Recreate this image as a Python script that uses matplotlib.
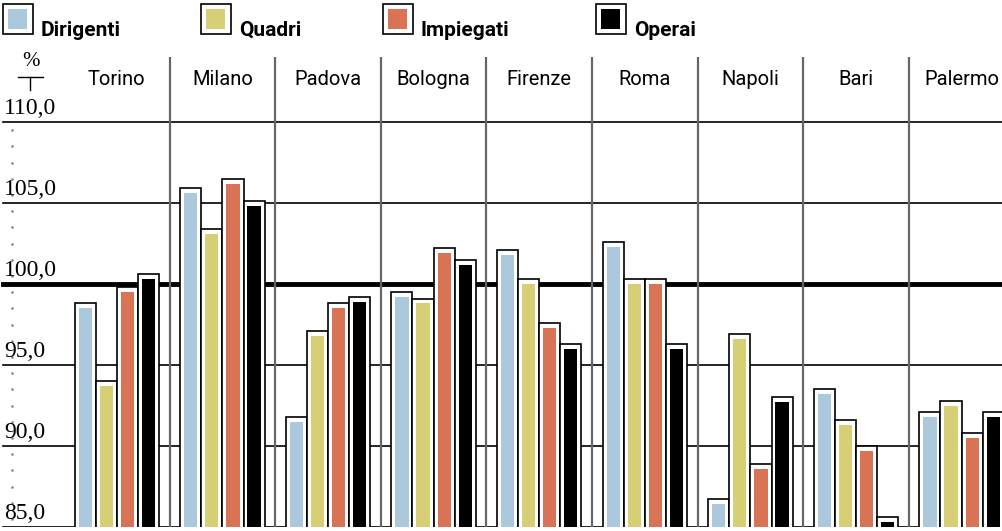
import matplotlib
matplotlib.use("Agg")
import matplotlib.pyplot as plt
import numpy as np
from matplotlib import font_manager
from matplotlib.lines import Line2D
from matplotlib.patches import Rectangle

cities = ["Torino", "Milano", "Padova", "Bologna", "Firenze", "Roma",
          "Napoli", "Bari", "Palermo"]
series = ["Dirigenti", "Quadri", "Impiegati", "Operai"]
dirigenti = [98.5, 105.6, 91.5, 99.2, 101.8, 102.3, 86.4, 93.2, 91.8]
quadri = [93.7, 103.1, 96.8, 98.8, 100.0, 100.0, 96.6, 91.3, 92.5]
impiegati = [99.5, 106.2, 98.5, 101.9, 97.3, 100.0, 88.6, 89.7, 90.5]
operai = [100.3, 104.8, 98.9, 101.2, 96.0, 96.0, 92.7, 85.3, 91.8]
colors = ["#abc8dc", "#d6cf76", "#d87455", "#000000"]
yticks = [85, 90, 95, 100, 105, 110]
ylabels = ["85,0", "90,0", "95,0", "100,0", "105,0", "110,0"]

installed = {f.name for f in font_manager.fontManager.ttflist}
narrow = "Liberation Sans Narrow" if "Liberation Sans Narrow" in installed else "Roboto"
serif = "Liberation Serif" if "Liberation Serif" in installed else "DejaVu Serif"

W, H = 1003, 531
fig = plt.figure(figsize=(W / 100, H / 100), dpi=100)

# pixel geometry: 110 at y=122, 85 at y=527; columns 105.6 px wide from x=64
ppu = 16.2
colw = 105.6
x0 = -0.5 - 64 / colw
x1 = x0 + W / colw
ytop = 110 + (122 - 57) / ppu
ax = fig.add_axes([0, 4 / H, 1, 470 / H])
ax.set_xlim(x0, x1)
ax.set_ylim(85, ytop)
ax.axis("off")

# horizontal rules
for v in yticks:
    lw = 3.5 if v == 100 else 1.2
    ax.axhline(v, xmin=3 / W, xmax=1, color="black", lw=lw, zorder=1)
# column separators
for k in range(1, len(cities)):
    ax.vlines(k - 0.5, 85, ytop, color="#666666", lw=1.6, zorder=1)

# dotted minor marks on the left
dots = np.arange(85.5, 110, 1.0)
ax.scatter(np.full(len(dots), x0 + 12 / colw), dots, s=0.8,
           color="#888888", zorder=2, clip_on=False)

x = np.arange(len(cities))
offs = [-0.3, -0.1, 0.1, 0.3]
base = 84.0
for vals, off, c in zip([dirigenti, quadri, impiegati, operai], offs, colors):
    vals = np.asarray(vals)
    ax.bar(x + off, vals + 0.3 - base, bottom=base, width=0.2,
           color="white", edgecolor="black", lw=1.2, zorder=3)
    ax.bar(x + off, vals - base, bottom=base, width=0.125,
           color=c, lw=0, zorder=4)

# y labels
for v, s in zip(yticks, ylabels):
    ax.text(4 / W, v + 0.2, s, transform=ax.get_yaxis_transform(),
            ha="left", va="bottom", fontsize=17, family=serif, zorder=5)

# city labels
for i, name in enumerate(cities):
    ax.text(i, 110 + (122 - 80) / ppu, name, ha="center", va="center",
            fontsize=14.5, family=narrow, zorder=5)

# unit mark
fig.text(31 / W, 1 - 62 / H, "%", ha="center", va="center",
         fontsize=15, family=serif)
fig.add_artist(Line2D([18 / W, 43 / W], [1 - 77 / H, 1 - 77 / H],
                      color="black", lw=1))
fig.add_artist(Line2D([30.5 / W, 30.5 / W], [1 - 77 / H, 1 - 90 / H],
                      color="black", lw=1))

# legend
leg_x = [3, 201, 383, 596]
for lx, name, c in zip(leg_x, series, colors):
    fig.add_artist(Rectangle((lx / W, 1 - 34 / H), 30 / W, 30 / H,
                             transform=fig.transFigure, facecolor="white",
                             edgecolor="black", lw=1.2))
    fig.add_artist(Rectangle(((lx + 5) / W, 1 - 28.5 / H), 19 / W, 19 / H,
                             transform=fig.transFigure, facecolor=c,
                             lw=0))
    fig.text((lx + 38) / W, 1 - 36 / H, name, ha="left", va="baseline",
             fontsize=15, fontweight="bold", family=narrow)

fig.savefig("out.png", dpi=100)
